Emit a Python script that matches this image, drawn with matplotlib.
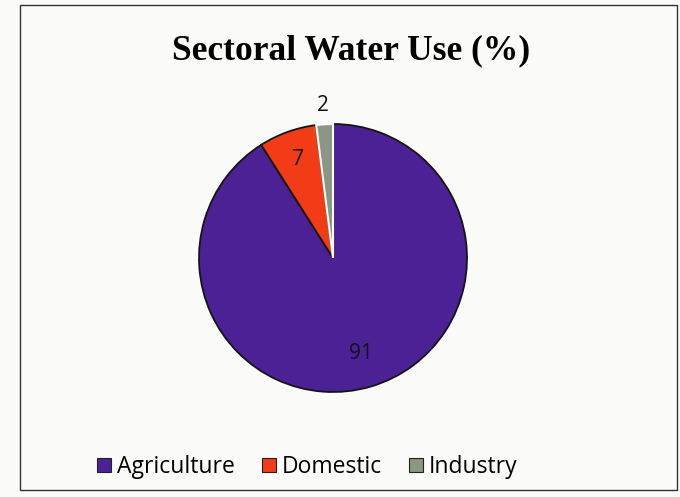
import numpy as np
import matplotlib.pyplot as plt
from matplotlib.patches import Rectangle

sectors = ['Agriculture', 'Domestic', 'Industry']
shares = [91, 7, 2]
colors = ['#4c2196', '#f23c18', '#8c9684']
label_radius = [0.74, 0.78, 1.14]


def main():
    fig = plt.figure(figsize=(6.8, 4.97), dpi=100)
    fig.patch.set_facecolor('#fbfbfa')

    # chart frame (slightly inset like the photographed chart area)
    fig.patches.append(Rectangle((0.03, 0.015), 0.965, 0.975, transform=fig.transFigure,
                                 fill=False, edgecolor='#333333', linewidth=1.0))

    fig.text(0.516, 0.897, 'Sectoral Water Use (%)', ha='center', va='center',
             fontsize=25.5, fontweight='bold', family='Liberation Serif')

    # pie centre ~ (333, 258) px, radius ~ 134 px
    ax = fig.add_axes([199 / 680, 105 / 497, 268 / 680, 268 / 497])
    ax.patch.set_visible(False)
    wedges, _ = ax.pie(shares, colors=colors, startangle=90, counterclock=False,
                       wedgeprops=dict(edgecolor='#141414', linewidth=1.3))
    # white gap at the top seam
    wedges[-1].set_edgecolor('white')
    wedges[-1].set_linewidth(1.5)

    for w, val, r in zip(wedges, shares, label_radius):
        mid = np.deg2rad((w.theta1 + w.theta2) / 2)
        ax.text(r * np.cos(mid), r * np.sin(mid), str(val), ha='center', va='center',
                fontsize=15, family='Open Sans', color='#111111')
    ax.set_xlim(-1, 1)
    ax.set_ylim(-1, 1)
    ax.set_aspect('equal')

    handles = [Rectangle((0, 0), 1, 1, facecolor=c, edgecolor='#222222', linewidth=0.8)
               for c in colors]
    fig.legend(handles, sectors, loc='center', bbox_to_anchor=(0.452, 0.06), ncol=3,
               frameon=False, prop={'family': 'Open Sans', 'size': 16.5},
               handlelength=0.6, handleheight=0.6, handletextpad=0.25, columnspacing=1.2)

    fig.savefig('out.png', dpi=100, facecolor=fig.get_facecolor())


if __name__ == '__main__':
    main()
